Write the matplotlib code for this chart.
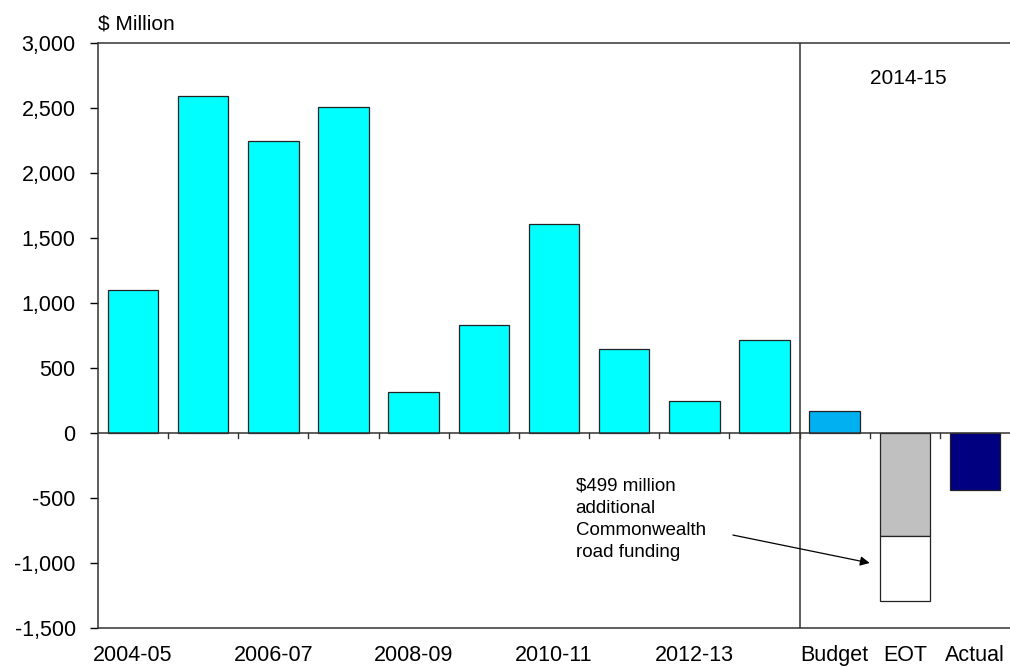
import matplotlib.pyplot as plt
import numpy as np

plt.rcParams['font.family'] = ['Liberation Sans', 'DejaVu Sans']

# data ($ million)
years = ['2004-05', '2005-06', '2006-07', '2007-08', '2008-09', '2009-10',
         '2010-11', '2011-12', '2012-13', '2013-14']
hist_values = [1100, 2590, 2250, 2505, 315, 830, 1608, 646, 246, 715]
cur_labels = ['Budget', 'EOT', 'Actual']
budget_value = 172
eot_value = -793
eot_road_funding = -499
actual_value = -441

tick_labels = ['2004-05', '', '2006-07', '', '2008-09', '', '2010-11', '',
               '2012-13', '', 'Budget', 'EOT', 'Actual']


def main():
	fig = plt.figure(figsize=(10.1, 6.67), dpi=100)
	ax = fig.add_axes([0.097, 0.0585, 0.903, 0.877])

	x_hist = np.arange(len(years))
	x_cur = np.arange(len(years), len(years) + len(cur_labels))
	w = 0.72
	edge = dict(edgecolor='#222222', linewidth=0.9)

	ax.bar(x_hist, hist_values, width=w, color='#00FFFF', **edge)
	ax.bar(x_cur[0], budget_value, width=w, color='#00B0F0', **edge)
	ax.bar(x_cur[1], eot_value, width=w, color='#C0C0C0', **edge)
	ax.bar(x_cur[1], eot_road_funding, bottom=eot_value, width=w, color='white', **edge)
	ax.bar(x_cur[2], actual_value, width=w, color='#000080', **edge)

	n = len(tick_labels)
	ax.set_xlim(-0.5, n - 0.5)
	ax.set_ylim(-1500, 3000)
	ax.set_yticks(np.arange(-1500, 3001, 500))
	ax.set_yticklabels([f'{v:,}' for v in np.arange(-1500, 3001, 500)])
	ax.set_xticks(np.arange(n))
	ax.set_xticklabels(tick_labels)
	ax.tick_params(axis='x', length=0, labelsize=15.5, pad=12)
	ax.tick_params(axis='y', direction='out', length=6, width=1, labelsize=15.5, pad=10)

	for s in ['left', 'top', 'bottom']:
		ax.spines[s].set_color('#333333')
		ax.spines[s].set_linewidth(1.1)
	ax.spines['right'].set_visible(False)

	# zero line with small ticks between categories
	ax.axhline(0, color='#333333', linewidth=1.1, zorder=3)
	for b in np.arange(0.5, n - 1, 1.0):
		ax.plot([b, b], [0, -40], color='#333333', linewidth=1, zorder=3)

	# separator between history and 2014-15
	ax.axvline(len(years) - 0.5, color='#333333', linewidth=1.1)

	ax.text(-0.5, 3075, '$ Million', fontsize=15, ha='left', va='bottom')
	ax.text(11.05, 2730, '2014-15', fontsize=15, ha='center', va='center')

	ax.text(6.31, -345, '$499 million\nadditional\nCommonwealth\nroad funding',
		fontsize=13.5, ha='left', va='top', linespacing=1.38)
	ax.annotate('', xy=(10.5, -1000), xytext=(8.55, -785),
		arrowprops=dict(arrowstyle='-|>', color='black', linewidth=0.9,
			shrinkA=0, shrinkB=0, mutation_scale=14))

	fig.savefig('out.png', dpi=100)


if __name__ == '__main__':
	main()
